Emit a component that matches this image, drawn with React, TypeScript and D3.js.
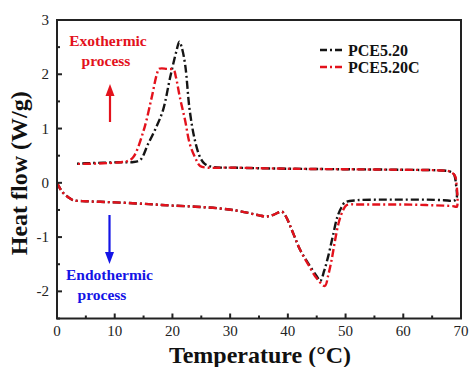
import React from "react";
import * as d3 from "d3";

const blackHeatT = [0, 0.5, 1.1, 2, 2.8, 5, 7.5, 10, 13.8, 17, 20, 24, 28, 31, 33.4, 35, 36.3, 37.5, 38.9, 39.5, 41, 42.1, 43.5, 45, 45.6, 46.3, 47, 47.8, 48.6, 49.3, 49.9, 52, 56, 60, 64, 67, 68.6];
const blackHeatY = [0, -0.1, -0.19, -0.27, -0.32, -0.34, -0.35, -0.36, -0.38, -0.4, -0.42, -0.44, -0.47, -0.51, -0.56, -0.6, -0.62, -0.59, -0.53, -0.59, -0.95, -1.23, -1.48, -1.72, -1.81, -1.62, -1.35, -0.98, -0.62, -0.45, -0.36, -0.32, -0.31, -0.31, -0.31, -0.32, -0.33];
const blackCoolT = [69.2, 69.1, 68.8, 68, 66, 60, 50, 40, 30, 27, 25.6, 24.8, 23.9, 23, 22.2, 21.6, 21.2, 20.7, 19.6, 18.4, 17.3, 15.8, 14.4, 13, 11, 8, 5, 3.1];
const blackCoolY = [-0.3, 0.0, 0.15, 0.21, 0.23, 0.24, 0.25, 0.26, 0.28, 0.29, 0.35, 0.47, 0.78, 1.33, 2.18, 2.5, 2.6, 2.43, 1.94, 1.35, 1.05, 0.72, 0.42, 0.38, 0.38, 0.37, 0.36, 0.35];

const redHeatT = [0, 0.5, 1.1, 2, 2.8, 5, 7.5, 10, 13.8, 17, 20, 24, 28, 31, 33.4, 35, 36.3, 37.5, 38.9, 39.5, 41, 42.1, 43.5, 45, 46.4, 47, 47.6, 48.2, 48.8, 49.5, 50.2, 52, 56, 60, 64, 67, 68.6, 69.1];
const redHeatY = [0, -0.1, -0.19, -0.27, -0.32, -0.34, -0.35, -0.36, -0.38, -0.4, -0.42, -0.44, -0.47, -0.51, -0.56, -0.6, -0.62, -0.59, -0.53, -0.59, -0.95, -1.23, -1.5, -1.76, -1.9, -1.7, -1.41, -1.05, -0.74, -0.52, -0.41, -0.4, -0.4, -0.4, -0.41, -0.42, -0.43, -0.44];
const redCoolT = [69.3, 69.2, 68.9, 68, 66, 60, 50, 40, 30, 26, 24.8, 24, 23, 22.2, 21.3, 20.6, 20.2, 19, 17.7, 17.3, 16.4, 15, 13.2, 12.2, 11, 8, 5, 3.1];
const redCoolY = [-0.44, 0.0, 0.14, 0.21, 0.23, 0.24, 0.25, 0.26, 0.28, 0.28, 0.31, 0.45, 0.72, 1.15, 1.57, 1.95, 2.08, 2.1, 2.1, 2.0, 1.57, 0.96, 0.47, 0.4, 0.38, 0.36, 0.35, 0.35];

const xTicks = [0, 10, 20, 30, 40, 50, 60, 70];
const xMinor = [5, 15, 25, 35, 45, 55, 65];
const yTicks = [-2, -1, 0, 1, 2, 3];
const yMinor = [-2.5, -1.5, -0.5, 0.5, 1.5, 2.5];

const seriesNames = ["PCE5.20", "PCE5.20C"];
const seriesColors = ["#151515", "#e3121c"];

const W = 472, H = 367;
const left = 57, right = 461, top = 20, bottom = 318.5;
const SERIF = '"Liberation Serif", "Times New Roman", "DejaVu Serif", serif';

export default function App() {
  const x = d3.scaleLinear().domain([0, 70]).range([left, right]);
  const y = d3.scaleLinear().domain([-2.5, 3]).range([bottom, top]);
  const line = d3
    .line<[number, number]>()
    .x((d) => x(d[0]))
    .y((d) => y(d[1]))
    .curve(d3.curveCatmullRom.alpha(0.5));

  const mk = (ht: number[], hy: number[], ct: number[], cy: number[]) => {
    const pts: [number, number][] = [];
    ht.forEach((t, i) => pts.push([t, hy[i]]));
    ct.forEach((t, i) => pts.push([t, cy[i]]));
    return pts;
  };
  const series = [
    mk(blackHeatT, blackHeatY, blackCoolT, blackCoolY),
    mk(redHeatT, redHeatY, redCoolT, redCoolY),
  ];
  const dash = "8,3,2,3";
  const ts = { fontFamily: SERIF } as React.CSSProperties;

  const arrowUp = (cx: number, y0: number, y1: number, c: string) => (
    <g>
      <line x1={cx} x2={cx} y1={y0} y2={y1 + 10} stroke={c} strokeWidth={2.2} />
      <path d={`M${cx - 4.5},${y1 + 12} L${cx},${y1} L${cx + 4.5},${y1 + 12} Z`} fill={c} />
    </g>
  );
  const arrowDown = (cx: number, y0: number, y1: number, c: string) => (
    <g>
      <line x1={cx} x2={cx} y1={y0} y2={y1 - 10} stroke={c} strokeWidth={2.2} />
      <path d={`M${cx - 4.5},${y1 - 12} L${cx},${y1} L${cx + 4.5},${y1 - 12} Z`} fill={c} />
    </g>
  );

  return (
    <svg width={W} height={H} style={{ position: "absolute", left: 0, top: 0, background: "#fff" }}>
      <rect x={0} y={0} width={W} height={H} fill="#fff" />
      {series.map((pts, i) => (
        <path key={i} d={line(pts) || ""} fill="none" stroke={seriesColors[i]} strokeWidth={2.4} strokeDasharray={dash} />
      ))}
      <rect x={left} y={top} width={right - left} height={bottom - top} fill="none" stroke="#222" strokeWidth={2} />
      {xTicks.map((t) => (
        <g key={"x" + t}>
          <line x1={x(t)} x2={x(t)} y1={bottom} y2={bottom - 5} stroke="#222" strokeWidth={2} />
          <text x={x(t)} y={336} fontSize={15} textAnchor="middle" fill="#222" style={ts}>{t}</text>
        </g>
      ))}
      {xMinor.map((t) => (
        <line key={"xm" + t} x1={x(t)} x2={x(t)} y1={bottom} y2={bottom - 3} stroke="#222" strokeWidth={2} />
      ))}
      {yTicks.map((t) => (
        <g key={"y" + t}>
          <line x1={left} x2={left + 5} y1={y(t)} y2={y(t)} stroke="#222" strokeWidth={2} />
          <text x={49} y={y(t) + 5} fontSize={15} textAnchor="end" fill="#222" style={ts}>{t}</text>
        </g>
      ))}
      {yMinor.map((t) => (
        <line key={"ym" + t} x1={left} x2={left + 3} y1={y(t)} y2={y(t)} stroke="#222" strokeWidth={2} />
      ))}
      <text x={(left + right) / 2 + 1} y={363} fontSize={24} fontWeight="bold" textAnchor="middle" fill="#111" style={ts}>
        Temperature (°C)
      </text>
      <text transform={`translate(27,${(top + bottom) / 2 + 4}) rotate(-90)`} fontSize={24} fontWeight="bold" textAnchor="middle" fill="#111" style={ts}>
        Heat flow (W/g)
      </text>
      {seriesNames.map((n, i) => (
        <g key={n}>
          <line x1={320} x2={344} y1={50 + i * 17} y2={50 + i * 17} stroke={seriesColors[i]} strokeWidth={2.4} strokeDasharray={"7,3,2,3"} />
          <text x={348} y={55.5 + i * 17} fontSize={16} fontWeight="bold" fill="#111" style={ts}>{n}</text>
        </g>
      ))}
      <text x={108} y={46} fontSize={15.5} fontWeight="bold" textAnchor="middle" fill="#e3121c" style={ts}>Exothermic</text>
      <text x={106} y={66} fontSize={15.5} fontWeight="bold" textAnchor="middle" fill="#e3121c" style={ts}>process</text>
      {arrowUp(110, 122, 84, "#e3121c")}
      {arrowDown(109.5, 215, 264, "#1414e6")}
      <text x={109.5} y={280} fontSize={15.5} fontWeight="bold" textAnchor="middle" fill="#1414e6" style={ts}>Endothermic</text>
      <text x={102} y={300} fontSize={15.5} fontWeight="bold" textAnchor="middle" fill="#1414e6" style={ts}>process</text>
    </svg>
  );
}
